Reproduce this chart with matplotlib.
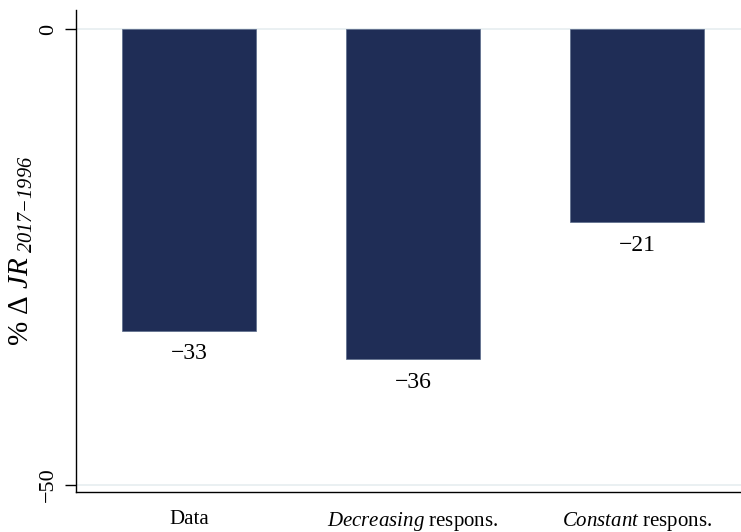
import matplotlib
matplotlib.use("Agg")
import matplotlib.pyplot as plt

categories = ["Data", "Decreasing respons.", "Constant respons."]
tick_labels = [r"Data", r"$\mathit{Decreasing}$ respons.", r"$\mathit{Constant}$ respons."]
values = [-33.1, -36.2, -21.2]
bar_labels = ["\u221233", "\u221236", "\u221221"]
yticks = [0, -50]
ytick_labels = ["0", "\u221250"]

plt.rcParams["font.family"] = ["Liberation Serif", "DejaVu Serif"]
plt.rcParams["mathtext.fontset"] = "custom"
plt.rcParams["mathtext.rm"] = "Liberation Serif"
plt.rcParams["mathtext.it"] = "Liberation Serif:italic"
plt.rcParams["mathtext.bf"] = "Liberation Serif:italic"

fig = plt.figure(figsize=(7.41, 5.32), dpi=100)
ax = fig.add_axes([76/741, 1 - 492/532, 1 - 76/741, (492 - 10)/532])

x = list(range(len(categories)))
bars = ax.bar(x, values, width=0.6, color="#1f2d56", edgecolor="#5a6a8a", linewidth=0.5, zorder=3)
for xi, v, lab in zip(x, values, bar_labels):
    ax.annotate(lab, (xi, v), xytext=(0, -9), textcoords="offset points",
                ha="center", va="top", fontsize=17)

ax.set_xlim(-0.504, 2.464)
ax.set_ylim(-50.77, 2.08)
ax.set_yticks(yticks)
ax.set_yticklabels(ytick_labels, rotation=90, va="center", fontsize=16)
ax.set_xticks(x)
ax.set_xticklabels(tick_labels, fontsize=15)
ax.tick_params(axis="x", length=0, pad=13)
ax.tick_params(axis="y", length=8, width=1, pad=5)
for yv in yticks:
    ax.axhline(yv, color="#e6eef0", linewidth=1.2, zorder=1)
ax.spines["top"].set_visible(False)
ax.spines["right"].set_visible(False)
ax.spines["left"].set_linewidth(1.0)
ax.spines["bottom"].set_linewidth(1.0)
ax.set_ylabel(r"% $\Delta$ $\mathit{JR}_{\ \mathbf{2017{-}1996}}$", fontsize=21, labelpad=3)

fig.savefig("out.png", dpi=100)
